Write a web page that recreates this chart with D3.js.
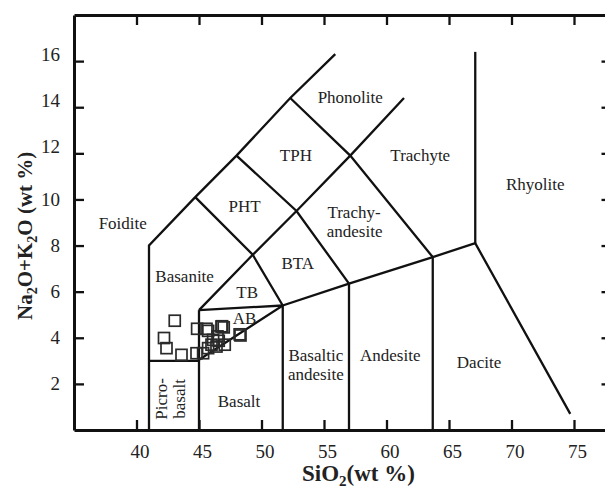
<!DOCTYPE html>
<html>
<head>
<meta charset="utf-8">
<script src="https://cdn.jsdelivr.net/npm/d3@7"></script>
<style>
  body { margin: 0; background: #fff; }
  svg { display: block; }
  svg text { font-family: "Liberation Serif", "Times New Roman", serif; }
</style>
</head>
<body>
<svg id="tas" width="605" height="491"></svg>
<script>
// TAS field boundaries, [SiO2, Na2O+K2O]
const boundaries = [
  [[41, 0], [41, 8], [44.7, 10.1], [48, 11.9], [52.3, 14.4], [55.9, 16.3]],
  [[41, 3], [45, 3]],
  [[45, 0], [45, 5.2]],
  [[45, 5.2], [49.3, 7.6], [52.8, 9.5], [57.1, 11.9], [61.4, 14.4]],
  [[44.7, 10.1], [49.3, 7.6], [51.7, 5.4]],
  [[48, 11.9], [52.8, 9.5], [57, 6.35]],
  [[52.3, 14.4], [57.1, 11.9], [63.7, 7.5]],
  [[45, 5.2], [51.7, 5.4]],
  [[45, 3.05], [51.7, 5.4], [57, 6.35], [63.7, 7.5], [67.1, 8.1], [74.7, 0.7]],
  [[51.7, 0], [51.7, 5.4]],
  [[57, 0], [57, 6.35]],
  [[63.7, 0], [63.7, 7.5]],
  [[67.1, 8.1], [67.1, 16.4]]
];

// field names: text, SiO2 (centre), alkali (baseline)
const fieldLabels = [
  ["Phonolite", 57.1, 14.2],
  ["Trachyte", 62.7, 11.65],
  ["TPH", 52.75, 11.65],
  ["Rhyolite", 71.9, 10.4],
  ["Trachy-", 57.4, 9.2],
  ["andesite", 57.45, 8.38],
  ["PHT", 48.65, 9.44],
  ["BTA", 52.9, 6.98],
  ["Basanite", 43.85, 6.44],
  ["TB", 48.85, 5.72],
  ["AB", 48.65, 4.6],
  ["Foidite", 38.9, 8.73],
  ["Basalt", 48.2, 0.98],
  ["Basaltic", 54.35, 3.0],
  ["andesite", 54.35, 2.17],
  ["Andesite", 60.3, 3.0],
  ["Dacite", 67.4, 2.68]
];

// rotated label in the picro-basalt box: text, SiO2 (baseline), alkali (centre)
const verticalLabels = [
  ["Picro-", 42.4, 1.35],
  ["basalt", 43.85, 1.35]
];

// samples
const sampleSiO2 = [42.2, 42.4, 43.06, 43.6, 44.8, 44.85, 45.33, 45.6, 45.73, 45.73,
  46.0, 46.13, 46.4, 46.48, 46.58, 46.8, 46.85, 46.98, 47.06, 48.32, 48.25];
const sampleAlk = [3.99, 3.55, 4.74, 3.26, 3.33, 4.39, 3.33, 4.39, 4.30, 3.55,
  3.70, 3.91, 3.62, 4.06, 3.87, 4.49, 4.5, 4.45, 3.70, 4.10, 4.15];

const xTicks = [40, 45, 50, 55, 60, 65, 70, 75];
const yTicks = [2, 4, 6, 8, 10, 12, 14, 16];

const svg = d3.select("#tas");

const x = d3.scaleLinear().domain([35, 78]).range([74, 611.5]);
const y = d3.scaleLinear().domain([0, 18]).range([430, 15]);

// boundary lines
const line = d3.line().x((d) => x(d[0])).y((d) => y(d[1]));
svg.append("g")
  .selectAll("path")
  .data(boundaries)
  .enter()
  .append("path")
  .attr("d", line)
  .attr("fill", "none")
  .attr("stroke", "#111")
  .attr("stroke-width", 2.3);

// axes, ticks pointing inward
const axisStyle = (g) => {
  g.attr("font-family", null).attr("font-size", null);
  g.select(".domain").attr("stroke", "#111").attr("stroke-width", 3);
  g.selectAll(".tick line").attr("stroke", "#111").attr("stroke-width", 2.3);
  g.selectAll(".tick text").attr("fill", "#222").style("font-size", "19px");
};

svg.append("g")
  .attr("transform", `translate(0, ${y(0)})`)
  .call(d3.axisBottom(x).tickValues(xTicks).tickSize(-10).tickSizeOuter(0).tickPadding(14))
  .call(axisStyle)
  .selectAll(".tick text")
  .attr("dx", 3)
  .attr("dy", "0.72em");

svg.append("g")
  .attr("transform", `translate(0, ${y(18)})`)
  .call(d3.axisTop(x).tickValues(xTicks).tickSize(-10).tickSizeOuter(0).tickFormat(""))
  .call(axisStyle);

svg.append("g")
  .attr("transform", `translate(${x(35)}, 0)`)
  .call(d3.axisLeft(y).tickValues(yTicks).tickSize(-10).tickSizeOuter(0).tickPadding(14))
  .call(axisStyle)
  .selectAll(".tick text")
  .filter((d) => d >= 12)
  .attr("dy", "-0.05em");

svg.append("g")
  .attr("transform", `translate(${x(78)}, 0)`)
  .call(d3.axisRight(y).tickValues(yTicks).tickSize(-10).tickSizeOuter(0).tickFormat(""))
  .call(axisStyle);

// field names
svg.append("g")
  .selectAll("text")
  .data(fieldLabels)
  .enter()
  .append("text")
  .attr("x", (d) => x(d[1]))
  .attr("y", (d) => y(d[2]))
  .attr("text-anchor", "middle")
  .style("font-size", "17px")
  .style("fill", "#222")
  .text((d) => d[0]);

svg.append("g")
  .selectAll("text")
  .data(verticalLabels)
  .enter()
  .append("text")
  .attr("transform", (d) => `translate(${x(d[1])}, ${y(d[2])}) rotate(-90)`)
  .attr("text-anchor", "middle")
  .style("font-size", "17px")
  .style("fill", "#222")
  .text((d) => d[0]);

// sample squares
const sq = 11;
svg.append("g")
  .selectAll("rect")
  .data(sampleSiO2.map((s, i) => [s, sampleAlk[i]]))
  .enter()
  .append("rect")
  .attr("x", (d) => x(d[0]) - sq / 2)
  .attr("y", (d) => y(d[1]) - sq / 2)
  .attr("width", sq)
  .attr("height", sq)
  .attr("fill", "none")
  .attr("stroke", "#2a2a2a")
  .attr("stroke-width", 1.7);

// axis titles
const xTitle = svg.append("text")
  .attr("x", 302)
  .attr("y", 481)
  .style("font-size", "23px")
  .style("font-weight", "bold")
  .style("fill", "#222");
xTitle.append("tspan").text("SiO");
xTitle.append("tspan").attr("dy", 5).style("font-size", "15px").text("2");
xTitle.append("tspan").attr("dy", -5).text("(wt %)");

const yTitle = svg.append("text")
  .attr("transform", "translate(32, 320) rotate(-90)")
  .style("font-size", "21px")
  .style("font-weight", "bold")
  .style("fill", "#222");
yTitle.append("tspan").text("Na");
yTitle.append("tspan").attr("dy", 5).style("font-size", "14px").text("2");
yTitle.append("tspan").attr("dy", -5).text("O+K");
yTitle.append("tspan").attr("dy", 5).style("font-size", "14px").text("2");
yTitle.append("tspan").attr("dy", -5).text("O (wt %)");
</script>
</body>
</html>
